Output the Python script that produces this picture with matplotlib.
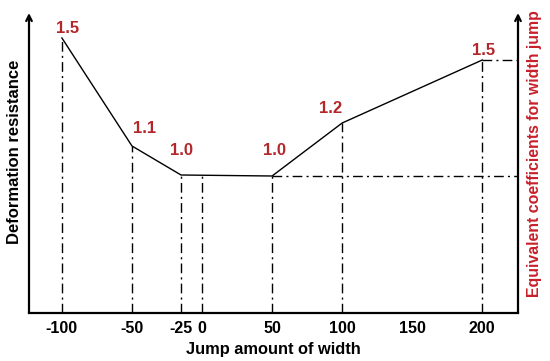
import matplotlib
matplotlib.use("Agg")
import matplotlib.pyplot as plt

plt.rcParams['font.family'] = ['Liberation Sans', 'DejaVu Sans']

# Data
x_pts = [-100, -50, -15, 50, 100, 200]          # positions of line vertices
y_pts = [2.75, 1.67, 1.38, 1.37, 1.90, 2.53]    # deformation resistance (arbitrary units)
coef_labels = ["1.5", "1.1", "1.0", "1.0", "1.2", "1.5"]
zero_x = 0
zero_y = 1.37
tick_pos = [-100, -50, -15, 0, 50, 100, 150, 200]
tick_lab = ["-100", "-50", "-25", "0", "50", "100", "150", "200"]

fig = plt.figure(figsize=(5.5, 3.61), dpi=100)
W, H = 550, 361
left, right, bottom, top = 29, 518, 313, 13
ax = fig.add_axes([left / W, (H - bottom) / H, (right - left) / W, (bottom - top) / H])
xmin, xmax = -123.5, 225.5
ymin, ymax = 0, 3.0
ax.set_xlim(xmin, xmax)
ax.set_ylim(ymin, ymax)

lab_red = '#b3262a'
axis_red = '#c8202a'
dash = (0, (7, 3, 1.5, 3))

ax.plot(x_pts, y_pts, color='black', lw=1.0, zorder=3)

for xv, yv in zip(x_pts, y_pts):
    ax.plot([xv, xv], [0, yv], color='black', lw=1.0, ls=dash)
ax.plot([zero_x, zero_x], [0, zero_y], color='black', lw=1.0, ls=dash)
ax.plot([x_pts[3], xmax], [y_pts[3], y_pts[3]], color='black', lw=1.0, ls=dash)
ax.plot([x_pts[5], xmax], [y_pts[5], y_pts[5]], color='black', lw=1.0, ls=dash)

offsets = [(4, 0.10), (9, 0.18), (0, 0.25), (2, 0.26), (-8, 0.15), (1, 0.10)]
for xv, yv, lab, (dx, dy) in zip(x_pts, y_pts, coef_labels, offsets):
    ax.text(xv + dx, yv + dy, lab, color=lab_red, fontsize=12, fontweight='bold',
            ha='center', va='center')

for s in ['top', 'left', 'right']:
    ax.spines[s].set_visible(False)
ax.spines['bottom'].set_linewidth(1.6)

for xa in (0, 1):
    ax.annotate('', xy=(xa, 1.0), xytext=(xa, 0), xycoords='axes fraction',
                arrowprops=dict(arrowstyle='->', lw=1.6, color='black',
                                shrinkA=0, shrinkB=0, mutation_scale=10),
                annotation_clip=False)

ax.set_yticks([])
ax.set_xticks(tick_pos)
ax.set_xticklabels(tick_lab, fontsize=11.5, fontweight='bold')
ax.tick_params(axis='x', length=0, pad=6)

ax.set_xlabel('Jump amount of width', fontsize=11.8, fontweight='bold', labelpad=4)
fig.text(15 / W, 1 - 152 / H, 'Deformation resistance', color='black',
         fontsize=12, fontweight='bold', rotation=90, ha='center', va='center')
fig.text(535 / W, 1 - 154 / H, 'Equivalent coefficients for width jump', color=axis_red,
         fontsize=11.4, fontweight='bold', rotation=90, ha='center', va='center')

fig.savefig('out.png', dpi=100)
